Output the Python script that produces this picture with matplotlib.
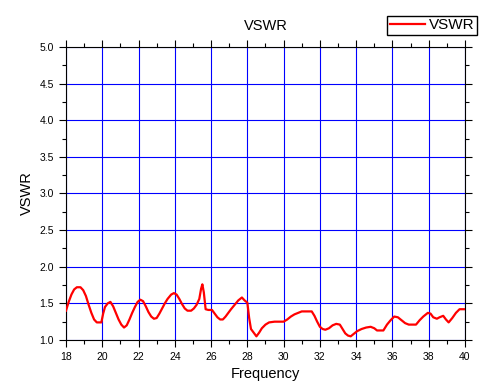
import matplotlib
matplotlib.use("Agg")
import matplotlib.pyplot as plt
from matplotlib.ticker import MultipleLocator

plt.rcParams['font.family'] = ['Liberation Sans', 'DejaVu Sans']

freq = [18.0, 18.15, 18.3, 18.45, 18.6, 18.8, 18.95, 19.1, 19.25, 19.4, 19.55, 19.7, 19.95,
        20.05, 20.15, 20.3, 20.45, 20.6, 20.75, 20.9, 21.05, 21.2, 21.35, 21.5, 21.65, 21.8,
        21.95, 22.1, 22.25, 22.4, 22.55, 22.7, 22.85, 23.0, 23.15, 23.3, 23.45, 23.6, 23.8,
        23.95, 24.1, 24.25, 24.4, 24.55, 24.7, 24.9, 25.05, 25.2, 25.35, 25.45, 25.52, 25.6,
        25.7, 25.85, 26.05, 26.2, 26.35, 26.5, 26.65, 26.8, 26.95, 27.1, 27.3, 27.5, 27.7,
        27.85, 28.0, 28.1, 28.2, 28.35, 28.5, 28.65, 28.8, 29.0, 29.2, 29.5, 29.8, 30.0,
        30.2, 30.4, 30.6, 30.8, 31.0, 31.3, 31.55, 31.7, 31.85, 32.0, 32.15, 32.3, 32.5,
        32.7, 32.9, 33.1, 33.25, 33.4, 33.55, 33.7, 33.85, 34.05, 34.3, 34.55, 34.8, 35.0,
        35.15, 35.5, 35.7, 35.9, 36.1, 36.3, 36.5, 36.7, 36.9, 37.3, 37.5, 37.7, 37.95,
        38.1, 38.25, 38.45, 38.6, 38.8, 38.95, 39.1, 39.3, 39.5, 39.7, 40.0]
vswr = [1.40, 1.52, 1.62, 1.69, 1.72, 1.72, 1.68, 1.60, 1.48, 1.37, 1.28, 1.24, 1.24,
        1.36, 1.45, 1.50, 1.52, 1.46, 1.37, 1.28, 1.21, 1.17, 1.20, 1.28, 1.37, 1.45,
        1.52, 1.55, 1.53, 1.46, 1.38, 1.32, 1.29, 1.30, 1.36, 1.43, 1.50, 1.56, 1.62,
        1.64, 1.62, 1.56, 1.49, 1.43, 1.40, 1.40, 1.43, 1.48, 1.56, 1.70, 1.76, 1.65,
        1.42, 1.41, 1.41, 1.36, 1.31, 1.28, 1.28, 1.32, 1.37, 1.42, 1.48, 1.54, 1.58,
        1.54, 1.51, 1.30, 1.15, 1.10, 1.05, 1.10, 1.16, 1.21, 1.24, 1.25, 1.25, 1.25,
        1.28, 1.32, 1.35, 1.37, 1.39, 1.39, 1.39, 1.33, 1.25, 1.18, 1.15, 1.14, 1.16,
        1.20, 1.22, 1.21, 1.15, 1.09, 1.06, 1.05, 1.08, 1.12, 1.15, 1.17, 1.18, 1.16,
        1.13, 1.13, 1.21, 1.27, 1.32, 1.31, 1.27, 1.23, 1.21, 1.21, 1.27, 1.32, 1.37,
        1.36, 1.31, 1.29, 1.31, 1.33, 1.28, 1.24, 1.30, 1.37, 1.42, 1.42]

fig = plt.figure(figsize=(4.83, 3.89), dpi=100)
ax = fig.add_axes([0.1366, 0.1260, 0.8261, 0.7532])

line, = ax.plot(freq, vswr, color='red', lw=1.6, label='VSWR', zorder=3)

ax.set_xlim(18, 40)
ax.set_ylim(1.0, 5.0)
ax.xaxis.set_major_locator(MultipleLocator(2))
ax.xaxis.set_minor_locator(MultipleLocator(1))
ax.yaxis.set_major_locator(MultipleLocator(0.5))
ax.yaxis.set_minor_locator(MultipleLocator(0.25))
ax.yaxis.set_major_formatter(plt.FormatStrFormatter('%.1f'))

ax.grid(True, which='major', color='blue', lw=0.8, zorder=1)
ax.tick_params(which='both', direction='out', top=True, right=True, labelsize=7.5)
ax.tick_params(which='major', length=5, width=0.8)
ax.tick_params(which='minor', length=3, width=0.8)

ax.set_title('VSWR', fontsize=10.5, pad=12)
ax.set_xlabel('Frequency', fontsize=10.5)
ax.set_ylabel('VSWR', fontsize=10.5)

fig.legend(handles=[line], loc='upper right', bbox_to_anchor=(0.988, 0.959),
           borderaxespad=0, fontsize=11, frameon=True, fancybox=False,
           edgecolor='black', handlelength=2.3, handletextpad=0.3,
           borderpad=0.15, framealpha=1)

fig.savefig('out.png', dpi=100)
